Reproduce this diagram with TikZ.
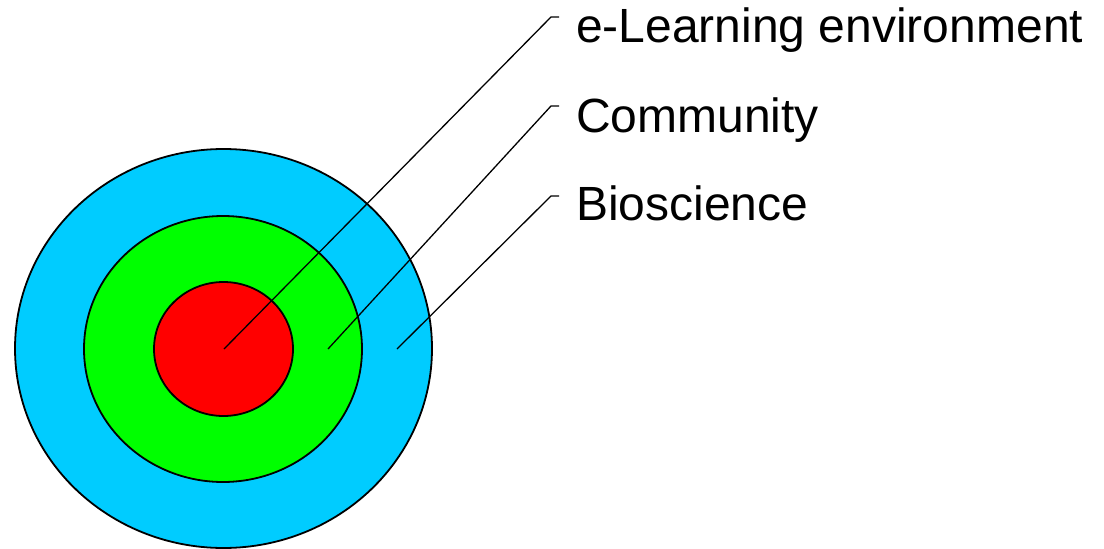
\documentclass[tikz,border=0pt]{standalone}
\usepackage{fontspec}
\setmainfont{Liberation Sans}
\definecolor{ringblue}{HTML}{00CCFF}
\definecolor{ringgreen}{HTML}{00FF00}
\definecolor{ringred}{HTML}{FF0000}
\begin{document}
\begin{tikzpicture}[x=1pt,y=-1pt,
  ring/.style={draw=black,line width=1.8pt},
  conn/.style={draw=black,line width=1.3pt},
  lbl/.style={anchor=base west,inner sep=0pt,font=\fontsize{48}{50}\selectfont}]
\useasboundingbox (0,0) rectangle (1104,549);
\fill[white] (0,0) rectangle (1104,549);
\path[ring,fill=ringblue] (223.5,348.5) ellipse [x radius=208.5,y radius=199.5];
\path[ring,fill=ringgreen] (223,349) ellipse [x radius=139,y radius=133];
\path[ring,fill=ringred] (223.5,349) ellipse [x radius=69.5,y radius=67];
\coordinate (s1) at (224,349);
\coordinate (s2) at (328,349);
\coordinate (s3) at (397,349);
\coordinate (k1) at (551,17);
\coordinate (k2) at (551,106);
\coordinate (k3) at (551,196);
\coordinate (h1) at (559,17);
\coordinate (h2) at (559,106);
\coordinate (h3) at (559,196);
\node[lbl] (t1) at (576,42) {e-Learning environment};
\node[lbl] (t2) at (576,132) {Community};
\node[lbl] (t3) at (576,220) {Bioscience};
\draw[conn] (s1) -- (k1) -- (h1);
\draw[conn] (s2) -- (k2) -- (h2);
\draw[conn] (s3) -- (k3) -- (h3);
\end{tikzpicture}
\end{document}
